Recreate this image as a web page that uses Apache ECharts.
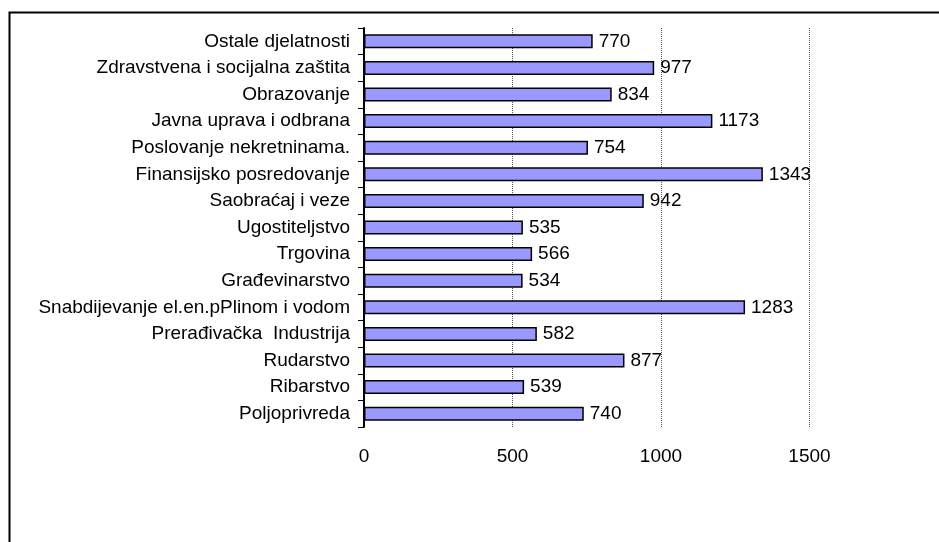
<!DOCTYPE html>
<html>
<head>
<meta charset="utf-8">
<script src="https://cdn.jsdelivr.net/npm/echarts@6/dist/echarts.min.js"></script>
<style>
  html, body { margin: 0; padding: 0; background: #fff; }
  #chart { width: 939px; height: 542px; }
</style>
</head>
<body>
<div id="chart"></div>
<script>
// bottom to top, as on the category axis
const categories = [
  'Poljoprivreda',
  'Ribarstvo',
  'Rudarstvo',
  'Prerađivačka  Industrija',
  'Snabdijevanje el.en.pPlinom i vodom',
  'Građevinarstvo',
  'Trgovina',
  'Ugostiteljstvo',
  'Saobraćaj i veze',
  'Finansijsko posredovanje',
  'Poslovanje nekretninama.',
  'Javna uprava i odbrana',
  'Obrazovanje',
  'Zdravstvena i socijalna zaštita',
  'Ostale djelatnosti'
];
const values = [740, 539, 877, 582, 1283, 534, 566, 535, 942, 1343, 754, 1173, 834, 977, 770];

const xMin = 0;
const xMax = 2000;
const xStep = 500;
const lastShownTick = 1500; // the 2000 tick falls off the right edge

const font = 'Liberation Sans, Arial, sans-serif';

const chart = echarts.init(document.getElementById('chart'));

chart.setOption({
  animation: false,
  backgroundColor: '#fff',
  graphic: [{
    type: 'rect',
    left: 7,
    top: 10,
    shape: { width: 960, height: 560 },
    style: { fill: 'none', stroke: '#000', lineWidth: 2 },
    silent: true
  }],
  grid: {
    left: 364,
    top: 28,
    width: 594,
    height: 399,
    containLabel: false,
    outerBoundsMode: 'none'
  },
  xAxis: {
    type: 'value',
    min: xMin,
    max: xMax,
    interval: xStep,
    axisLine: { show: false },
    axisTick: { show: false },
    axisLabel: {
      margin: 20,
      color: '#000',
      fontSize: 19,
      fontFamily: font,
      formatter: v => (v > lastShownTick ? '' : String(v))
    },
    splitLine: {
      show: true,
      lineStyle: { color: '#555', width: 1, type: [1, 1] }
    }
  },
  yAxis: {
    type: 'category',
    data: categories,
    axisLine: { show: true, lineStyle: { color: '#000', width: 2 } },
    axisTick: { show: true, length: 6, lineStyle: { color: '#000', width: 1 } },
    axisLabel: {
      margin: 14,
      color: '#000',
      fontSize: 19,
      fontFamily: font
    },
    splitLine: { show: false }
  },
  series: [{
    type: 'bar',
    data: values,
    barWidth: 14,
    itemStyle: {
      color: '#9999ff',
      borderColor: '#000',
      borderWidth: 1.5
    },
    label: {
      show: true,
      position: 'right',
      distance: 6,
      color: '#000',
      fontSize: 19,
      fontFamily: font
    }
  }]
});
</script>
</body>
</html>
